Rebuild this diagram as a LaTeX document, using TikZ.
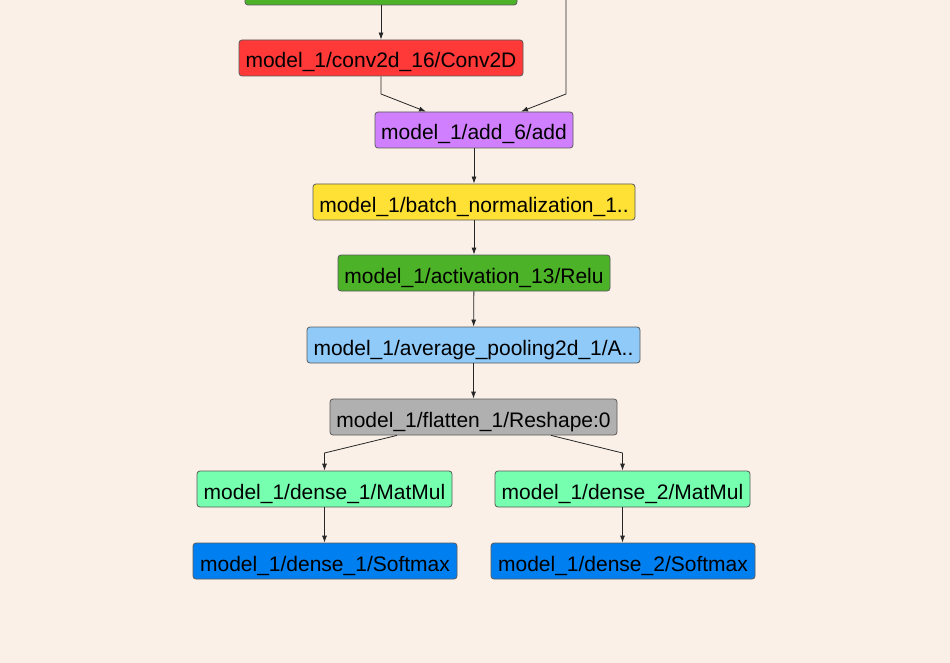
\documentclass[tikz,border=0pt]{standalone}
\usepackage{fontspec}
\setmainfont{Liberation Sans}
\usetikzlibrary{arrows.meta}
\definecolor{bg}{RGB}{250,240,232}
\definecolor{cgreen}{RGB}{76,178,40}
\definecolor{cred}{RGB}{255,56,56}
\definecolor{cpurple}{RGB}{208,128,255}
\definecolor{cyellow}{RGB}{255,225,53}
\definecolor{clblue}{RGB}{144,202,249}
\definecolor{cgray}{RGB}{176,176,176}
\definecolor{cmint}{RGB}{119,255,176}
\definecolor{cblue}{RGB}{0,128,240}
\definecolor{cborder}{RGB}{90,90,90}
\tikzset{
  box/.style={draw=cborder, line width=0.8pt, rounded corners=3pt, inner sep=0pt,
    minimum height=36pt, text height=24pt, text depth=4pt,
    font=\fontsize{21}{24}\selectfont, text=black},
  arr/.style={draw=black!85, line width=0.8pt, -{Latex[length=7pt,width=5pt]}},
  ln/.style={draw=black!85, line width=0.8pt}
}
\begin{document}
\begin{tikzpicture}[x=1pt,y=-1pt]
\useasboundingbox (0,0) rectangle (950,663);
\clip (0,0) rectangle (950,663);
\fill[bg] (0,0) rectangle (950,663);

\node[box, fill=cgreen, minimum width=272pt] (top) at (381,-13) {};
\coordinate (skip) at (566,-10);

\node[box, fill=cred, minimum width=284pt] (conv) at (381,58) {model\_1/conv2d\_16/Conv2D};
\node[box, fill=cpurple, minimum width=198pt] (add) at (474,130) {model\_1/add\_6/add};
\node[box, fill=cyellow, minimum width=322pt] (bn) at (474,202) {model\_1/batch\_normalization\_1..};
\node[box, fill=cgreen, minimum width=272pt] (act) at (474,273) {model\_1/activation\_13/Relu};
\node[box, fill=clblue, minimum width=333pt] (pool) at (473.5,345) {model\_1/average\_pooling2d\_1/A..};
\node[box, fill=cgray, minimum width=287pt] (flat) at (473.5,417) {model\_1/flatten\_1/Reshape:0};
\node[box, fill=cmint, minimum width=255pt] (d1) at (324.5,489) {model\_1/dense\_1/MatMul};
\node[box, fill=cmint, minimum width=255pt] (d2) at (622.5,489) {model\_1/dense\_2/MatMul};
\node[box, fill=cblue, minimum width=264pt] (s1) at (325,561) {model\_1/dense\_1/Softmax};
\node[box, fill=cblue, minimum width=264pt] (s2) at (623,561) {model\_1/dense\_2/Softmax};

\draw[arr] (top.south) -- (conv.north);
\draw[arr] (skip) -- (566,94) -- ([xshift=47pt]add.north);
\draw[arr] (conv.south) -- (381,94) -- ([xshift=-48pt]add.north);
\draw[arr] (add) -- (bn);
\draw[arr] (bn) -- (act);
\draw[arr] (act) -- (pool);
\draw[arr] (pool) -- (flat);
\draw[arr] ([xshift=-76.5pt]flat.south) -- (324.5,453) -- (d1.north);
\draw[arr] ([xshift=77.5pt]flat.south) -- (622.5,453) -- (d2.north);
\draw[arr] (d1.south) -- (d1.south |- s1.north);
\draw[arr] (d2.south) -- (d2.south |- s2.north);
\end{tikzpicture}
\end{document}
